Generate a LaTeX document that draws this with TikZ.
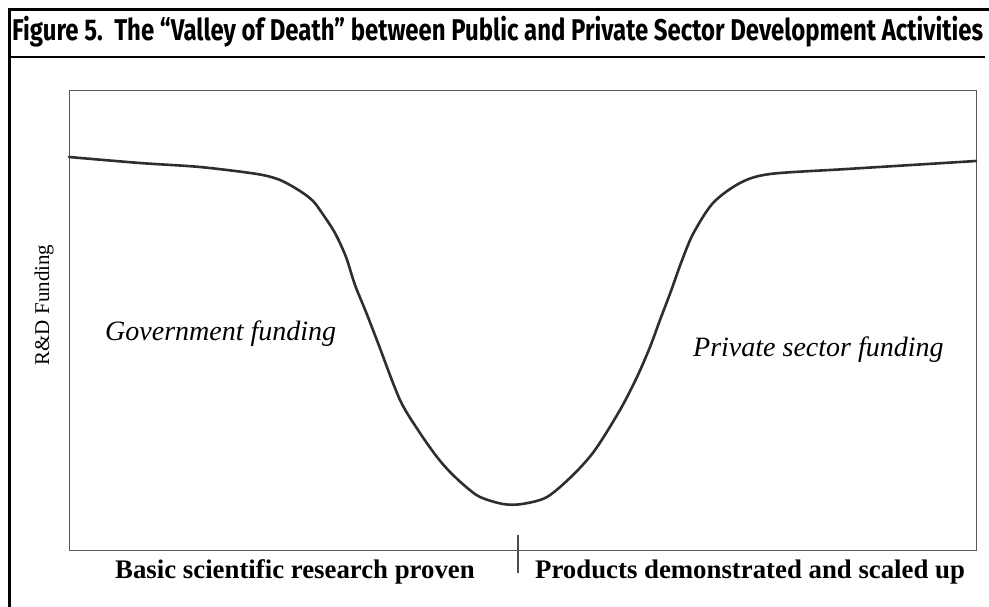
\documentclass[tikz,border=0pt]{standalone}
\usepackage{fontspec}
\setmainfont{Liberation Serif}
\newfontfamily\titlefont{Fira Sans}
\usepackage{graphicx}
\begin{document}
\begin{tikzpicture}[x=1pt,y=-1pt,
  frameline/.style={line width=3pt,black},
  boxline/.style={line width=1pt,black!65},
  curveline/.style={line width=2.6pt,black!82,line join=round,line cap=round},
  axislabel/.style={inner sep=0pt,font=\fontsize{21}{24}\selectfont},
  regionlabel/.style={inner sep=0pt,font=\fontsize{28}{32}\selectfont\itshape},
  stagelabel/.style={inner sep=0pt,font=\fontsize{26.8}{30}\selectfont\bfseries}]
\useasboundingbox (0,0) rectangle (989,606);
% outer frame
\draw[frameline] (9,607) -- (9,9) -- (990,9);
% title
\node[anchor=base west,inner sep=0pt] (title) at (12,40)
  {\resizebox{971pt}{\height}{\fontsize{30}{34}\selectfont\titlefont\bfseries Figure 5.\ \ The “Valley of Death” between Public and Private Sector Development Activities}};
\draw[line width=1.5pt] (11,57) coordinate (ul1) -- (985,57) coordinate (ul2);
% inner box
\draw[boxline] (69,90) rectangle (976,550);
% curve
\draw[curveline] plot[smooth,tension=0.5] coordinates {
 (69,157) (140,163) (200,167) (257,174) (280,180) (300,191) (313,201)
 (322,213) (335,233) (346,257) (355,285) (366,312) (378,343) (400,400)
 (420,433) (437,457) (450,472) (465,486) (480,497) (503,504) (522,504)
 (547,497) (573,475) (595,450) (620,410) (637,377) (650,347) (660,320)
 (671,291) (681,263) (693,234) (713,203) (740,183) (770,174) (847,169) (976,161)};
% labels
\node[axislabel,rotate=90] (ylab) at (44,305) {R\&D Funding};
\node[regionlabel,anchor=base west] (gov) at (105,340) {Government funding};
\node[regionlabel,anchor=base west] (priv) at (693,356) {Private sector funding};
\node[stagelabel,anchor=base west] (basic) at (115,578) {Basic scientific research proven};
\node[stagelabel,anchor=base west] (prod) at (535,578) {Products demonstrated and scaled up};
\draw[line width=1.2pt,black!70] (518,535) coordinate (t1) -- (518,573) coordinate (t2);
\end{tikzpicture}
\end{document}
